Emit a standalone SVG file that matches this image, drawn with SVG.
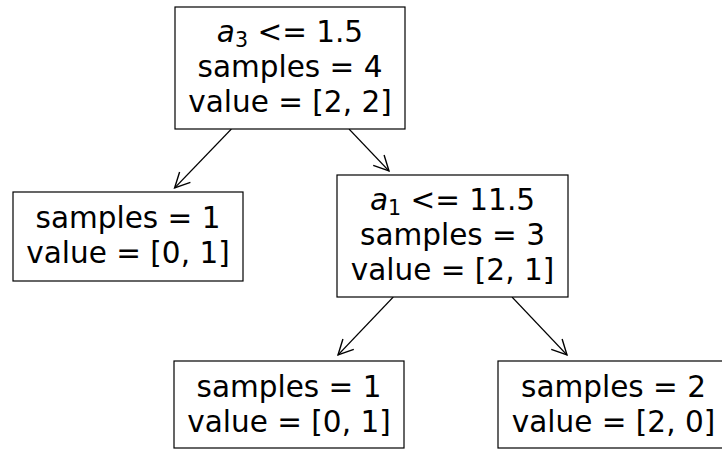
<svg xmlns="http://www.w3.org/2000/svg" width="722" height="449" viewBox="0 0 722 449">
<defs>
<style>
.box{fill:#ffffff;stroke:#000000;stroke-width:1.2}
.t{font-family:"DejaVu Sans",sans-serif;font-size:29.5px;fill:#000000;text-anchor:middle}
.it{font-style:italic}
.sub{font-size:20.6px}
.edge{stroke:#000000;stroke-width:1.1;fill:none;marker-end:url(#arr)}
</style>
<marker id="arr" markerUnits="userSpaceOnUse" markerWidth="20" markerHeight="20" viewBox="-14 -8 16 16" refX="0" refY="0" orient="auto">
<path d="M-12,-6 L0,0 L-12,6" fill="none" stroke="#000000" stroke-width="1.1"/>
</marker>
</defs>
<rect width="722" height="449" fill="#ffffff"/>
<g id="connectors">
<line class="edge" x1="231.4" y1="129" x2="174.6" y2="188"/>
<line class="edge" x1="349" y1="129" x2="389" y2="171"/>
<line class="edge" x1="393.3" y1="297" x2="338" y2="355"/>
<line class="edge" x1="512" y1="297" x2="567" y2="355"/>
</g>
<g id="node-root">
<rect class="box" x="175" y="7" width="230" height="122"/>
<text class="t" x="290" y="42"><tspan class="it">a</tspan><tspan class="sub" dy="5">3</tspan><tspan dy="-5"> &lt;= 1.5</tspan></text>
<text class="t" x="290" y="77">samples = 4</text>
<text class="t" x="290" y="112">value = [2, 2]</text>
</g>
<g id="node-left">
<rect class="box" x="13" y="192" width="230" height="89"/>
<text class="t" x="128" y="228">samples = 1</text>
<text class="t" x="128" y="263">value = [0, 1]</text>
</g>
<g id="node-mid">
<rect class="box" x="337" y="175" width="231" height="122"/>
<text class="t" x="452.5" y="210"><tspan class="it">a</tspan><tspan class="sub" dy="5">1</tspan><tspan dy="-5"> &lt;= 11.5</tspan></text>
<text class="t" x="452.5" y="245">samples = 3</text>
<text class="t" x="452.5" y="280">value = [2, 1]</text>
</g>
<g id="node-bl">
<rect class="box" x="174" y="361" width="230" height="87"/>
<text class="t" x="289" y="397">samples = 1</text>
<text class="t" x="289" y="432">value = [0, 1]</text>
</g>
<g id="node-br">
<rect class="box" x="498" y="361" width="231" height="87"/>
<text class="t" x="613.5" y="397">samples = 2</text>
<text class="t" x="613.5" y="432">value = [2, 0]</text>
</g>
</svg>
